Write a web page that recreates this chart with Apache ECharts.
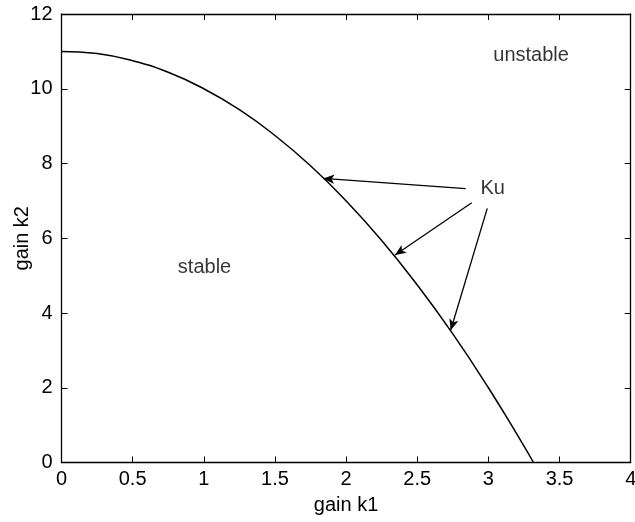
<!DOCTYPE html>
<html><head><meta charset="utf-8">
<script src="https://cdn.jsdelivr.net/npm/echarts@6/dist/echarts.min.js"></script>
<style>html,body{margin:0;padding:0;background:#fff}#c{width:635px;height:522px}</style>
</head><body><div id="c"></div>
<script>
const k1 = [0,0.25,0.5,0.75,1,1.25,1.5,1.75,2,2.25,2.5,2.75,3,3.25,3.317];
const k2 = [11,10.94,10.75,10.44,10,9.44,8.75,7.94,7,5.94,4.75,3.44,2,0.44,0];
const xTicks = [0,0.5,1,1.5,2,2.5,3,3.5,4];
const yTicks = [0,2,4,6,8,10,12];
const arrows = [
  [[2.84,7.33],[1.84,7.60]],
  [[2.883,6.95],[2.344,5.55]],
  [[2.992,6.80],[2.735,3.54]]
];
const labels = [
  {name:'Ku', pos:[3.03,7.33]},
  {name:'stable', pos:[1.005,5.23]},
  {name:'unstable', pos:[3.30,10.9]}
];
const font = 'Liberation Sans, Arial, sans-serif';
const FS = 20;
const chart = echarts.init(document.getElementById('c'));
const tickStyle = {show:true, inside:true, length:6, lineStyle:{color:'#000', width:1}};
const axisLine = {show:true, onZero:false, lineStyle:{color:'#000', width:1.3}};
chart.setOption({
  animation:false,
  backgroundColor:'#fff',
  grid:{left:61.5, right:4.3, top:14, bottom:59.5, containLabel:false, outerBoundsMode:'none'},
  xAxis:[
    {type:'value', min:0, max:4, interval:0.5, position:'bottom',
     axisLine, axisTick:tickStyle, splitLine:{show:false},
     axisLabel:{color:'#000', fontSize:FS, fontFamily:font, margin:7,
       formatter:v=> xTicks.includes(v)? String(v):''},
     name:'gain k1', nameLocation:'middle', nameGap:33, nameMoveOverlap:false,
     nameTextStyle:{color:'#000', fontSize:FS, fontFamily:font}},
    {type:'value', min:0, max:4, interval:0.5, position:'top',
     axisLine, axisTick:tickStyle, axisLabel:{show:false}, splitLine:{show:false}}
  ],
  yAxis:[
    {type:'value', min:0, max:12, interval:2, position:'left',
     axisLine, axisTick:tickStyle, splitLine:{show:false},
     axisLabel:{color:'#000', fontSize:FS, fontFamily:font, margin:9,
       formatter:v=> yTicks.includes(v)? String(v):''},
     name:'gain k2', nameLocation:'middle', nameGap:29, nameMoveOverlap:false,
     nameTextStyle:{color:'#000', fontSize:FS, fontFamily:font}},
    {type:'value', min:0, max:12, interval:2, position:'right',
     axisLine, axisTick:tickStyle, axisLabel:{show:false}, splitLine:{show:false}}
  ],
  series:[
    {type:'line', data:k1.map((x,i)=>[x,k2[i]]), smooth:true, showSymbol:false,
     lineStyle:{color:'#000', width:1.5},
     markLine:{silent:true, symbol:['none','arrow'], symbolSize:[7,11],
       label:{show:false},
       lineStyle:{color:'#000', width:1.3, type:'solid'},
       data: arrows.map(a=>[{coord:a[0]},{coord:a[1]}])}},
    {type:'scatter', symbolSize:0, silent:true,
     data: labels.map(l=>({name:l.name, value:l.pos})),
     label:{show:true, position:'inside', formatter:'{b}', color:'#000',
       fontSize:FS, fontFamily:font}}
  ]
});
</script></body></html>
